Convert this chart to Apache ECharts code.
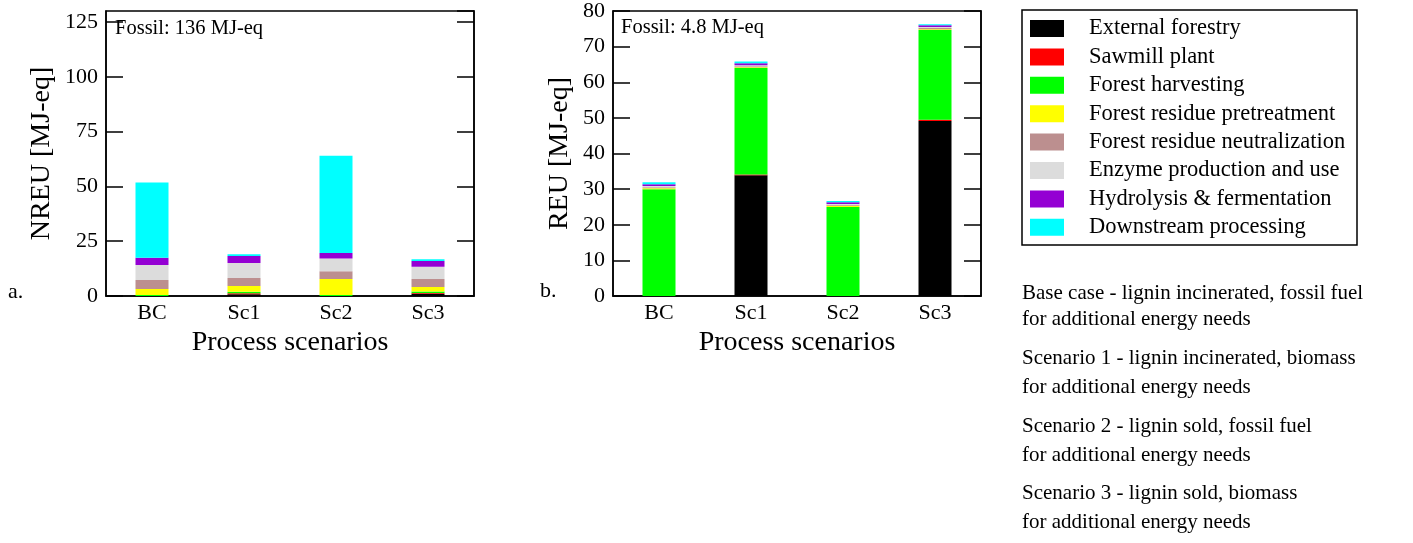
<!DOCTYPE html>
<html>
<head>
<meta charset="utf-8">
<script src="https://cdn.jsdelivr.net/npm/echarts@6/dist/echarts.min.js"></script>
<style>html,body{margin:0;padding:0;background:#fff;}#c{width:1413px;height:543px;}</style>
</head>
<body>
<div id="c"></div>
<script>
const categories = ['BC', 'Sc1', 'Sc2', 'Sc3'];
const components = ['External forestry', 'Sawmill plant', 'Forest harvesting', 'Forest residue pretreatment',
  'Forest residue neutralization', 'Enzyme production and use', 'Hydrolysis & fermentation', 'Downstream processing'];
const colors = ['#000000', '#ff0000', '#00ff00', '#ffff00', '#bc8f8f', '#dcdcdc', '#9400d3', '#00ffff'];

// Non-renewable energy use [MJ-eq], per component, per scenario
const nreuExternalForestry = [0, 0.8, 0, 1.0];
const nreuSawmill = [0, 0.4, 0, 0.4];
const nreuHarvesting = [0.4, 0.7, 0.4, 0.7];
const nreuPretreatment = [2.8, 2.7, 7.3, 2.0];
const nreuNeutralization = [4.1, 3.6, 3.6, 3.6];
const nreuEnzyme = [6.8, 6.8, 5.8, 5.6];
const nreuHydrolysis = [3.4, 3.2, 2.5, 2.7];
const nreuDownstream = [34.3, 0.8, 44.4, 0.8];

// Renewable energy use [MJ-eq]
const reuExternalForestry = [0, 33.9, 0, 49.1];
const reuSawmill = [0, 0.2, 0, 0.4];
const reuHarvesting = [30.0, 29.9, 25.0, 25.2];
const reuPretreatment = [0.25, 0.2, 0.3, 0.2];
const reuNeutralization = [0.3, 0.3, 0.3, 0.3];
const reuEnzyme = [0.3, 0.3, 0.2, 0.3];
const reuHydrolysis = [0.55, 0.5, 0.5, 0.5];
const reuDownstream = [0.5, 0.5, 0.4, 0.3];

const nreuTicks = { min: 0, max: 130, interval: 25 };
const reuTicks = { min: 0, max: 80, interval: 10 };
const fossilLabels = ['Fossil: 136 MJ-eq', 'Fossil: 4.8 MJ-eq'];
const panelLabels = ['a.', 'b.'];
const notes = [
  'Base case - lignin incinerated, fossil fuel', 'for additional energy needs',
  'Scenario 1 - lignin incinerated, biomass', 'for additional energy needs',
  'Scenario 2 - lignin sold, fossil fuel', 'for additional energy needs',
  'Scenario 3 - lignin sold, biomass', 'for additional energy needs'
];

const nreuData = [nreuExternalForestry, nreuSawmill, nreuHarvesting, nreuPretreatment, nreuNeutralization, nreuEnzyme, nreuHydrolysis, nreuDownstream];
const reuData = [reuExternalForestry, reuSawmill, reuHarvesting, reuPretreatment, reuNeutralization, reuEnzyme, reuHydrolysis, reuDownstream];

const FONT = 'Liberation Serif';
const chart = echarts.init(document.getElementById('c'));

function xAxis(gi) {
  return {
    type: 'category', gridIndex: gi, data: categories,
    name: 'Process scenarios', nameLocation: 'middle', nameGap: 30,
    nameTextStyle: { fontFamily: FONT, fontSize: 28, color: '#000' },
    axisLine: { lineStyle: { color: '#000', width: 1.5 } },
    axisTick: { show: false },
    axisLabel: { fontFamily: FONT, fontSize: 22, color: '#000', margin: 6 }
  };
}
function yAxes(gi, t, name, gap) {
  const showMax = t.max % t.interval === 0;
  return [{
    type: 'value', gridIndex: gi, position: 'left', min: t.min, max: t.max, interval: t.interval,
    name: name, nameLocation: 'middle', nameGap: gap, nameRotate: 90,
    nameTextStyle: { fontFamily: FONT, fontSize: 28, color: '#000' },
    axisLine: { show: true, lineStyle: { color: '#000', width: 1.5 } },
    axisTick: { show: true, inside: true, length: 17, lineStyle: { color: '#000', width: 1.5 } },
    axisLabel: { fontFamily: FONT, fontSize: 22, color: '#000', margin: 8, showMaxLabel: showMax },
    splitLine: { show: false }
  }, {
    type: 'value', gridIndex: gi, position: 'right', min: t.min, max: t.max, interval: t.interval,
    axisLine: { show: true, lineStyle: { color: '#000', width: 1.5 } },
    axisTick: { show: true, inside: true, length: 17, lineStyle: { color: '#000', width: 1.5 } },
    axisLabel: { show: false }, splitLine: { show: false }
  }];
}

const series = [];
components.forEach((name, i) => {
  series.push({ name, type: 'bar', stack: 'nreu', xAxisIndex: 0, yAxisIndex: 0, data: nreuData[i],
    barWidth: 33, itemStyle: { color: colors[i] }, emphasis: { disabled: true } });
});
components.forEach((name, i) => {
  series.push({ name, type: 'bar', stack: 'reu', xAxisIndex: 1, yAxisIndex: 2, data: reuData[i],
    barWidth: 33, itemStyle: { color: colors[i] }, emphasis: { disabled: true } });
});

const graphics = [
  { type: 'text', left: 115, top: 18, style: { text: fossilLabels[0], font: '20.5px "' + FONT + '"', fill: '#000' } },
  { type: 'text', left: 621, top: 17, style: { text: fossilLabels[1], font: '20.5px "' + FONT + '"', fill: '#000' } },
  { type: 'text', left: 8, top: 281, style: { text: panelLabels[0], font: '22px "' + FONT + '"', fill: '#000' } },
  { type: 'text', left: 540, top: 280, style: { text: panelLabels[1], font: '22px "' + FONT + '"', fill: '#000' } },
  { type: 'rect', shape: { x: 1022, y: 10, width: 335, height: 235 }, style: { fill: 'none', stroke: '#000', lineWidth: 1.5 } }
];
const noteY = [294, 320, 359, 388, 427, 456, 494, 523];
notes.forEach((t, i) => {
  graphics.push({ type: 'text', left: 1022, top: noteY[i] - 11, style: { text: t, font: '21px "' + FONT + '"', fill: '#000' } });
});

chart.setOption({
  animation: false,
  backgroundColor: '#fff',
  grid: [
    { left: 106, top: 11, width: 368, height: 285, show: true, borderColor: '#000', borderWidth: 1.5, backgroundColor: 'transparent' },
    { left: 613, top: 10, width: 368, height: 286, show: true, borderColor: '#000', borderWidth: 1.5, backgroundColor: 'transparent' }
  ],
  legend: {
    orient: 'vertical', left: 1030, top: 17, padding: 0, itemGap: 5.4,
    itemWidth: 34, itemHeight: 17, icon: 'rect', data: components,
    textStyle: { fontFamily: FONT, fontSize: 22.5, color: '#000', lineHeight: 22, padding: [0, 0, 0, 20] }
  },
  xAxis: [xAxis(0), xAxis(1)],
  yAxis: [...yAxes(0, nreuTicks, 'NREU [MJ-eq]', 50), ...yAxes(1, reuTicks, 'REU [MJ-eq]', 39)],
  graphic: graphics,
  series
});
</script>
</body>
</html>
